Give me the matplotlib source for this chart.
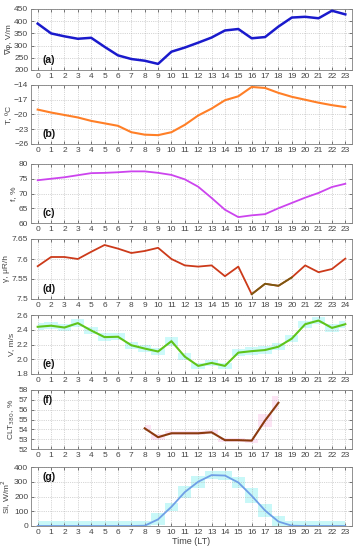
import numpy as np
import matplotlib
matplotlib.use("Agg")
import matplotlib.pyplot as plt

plt.rcParams["font.family"] = ["Liberation Sans", "DejaVu Sans"]

hours = list(range(24))

# (a) potential gradient, V/m
pg = [390, 350, 338, 328, 332, 295, 260, 245, 238, 225, 275, 292,
      312, 333, 362, 368, 330, 335, 378, 415, 418, 412, 443, 428]
# (b) temperature, C
temp = [-19.0, -19.6, -20.1, -20.6, -21.3, -21.8, -22.3, -23.6, -24.1, -24.2, -23.6, -22.1,
        -20.2, -18.8, -17.1, -16.3, -14.4, -14.6, -15.6, -16.4, -17.0, -17.6, -18.1, -18.5]
# (c) relative humidity, %
rh = [74.5, 75.0, 75.5, 76.2, 76.9, 77.0, 77.2, 77.5, 77.5, 77.0, 76.3, 74.8,
      72.3, 68.5, 64.5, 62.0, 62.6, 63.0, 65.0, 66.8, 68.6, 70.2, 72.2, 73.3]
# (d) gamma background, uR/h
gamma = [7.582, 7.605, 7.605, 7.600, 7.618, 7.635, 7.626, 7.615, 7.620, 7.628, 7.600, 7.584,
         7.581, 7.584, 7.557, 7.581, 7.512, 7.538, 7.533, 7.554, 7.584, 7.567, 7.575, 7.601]
gamma_labels = ["0"] + [str(h) for h in range(2, 25)]
# (e) wind speed, m/s
wind = [2.44, 2.455, 2.43, 2.49, 2.39, 2.30, 2.305, 2.19, 2.145, 2.105, 2.245, 2.035,
        1.91, 1.95, 1.91, 2.09, 2.11, 2.125, 2.17, 2.28, 2.475, 2.525, 2.425, 2.475]
wind_err = [0.05, 0.05, 0.05, 0.05, 0.05, 0.05, 0.05, 0.05, 0.05, 0.05, 0.06, 0.05,
            0.04, 0.04, 0.04, 0.05, 0.05, 0.05, 0.05, 0.05, 0.05, 0.05, 0.05, 0.05]
# (f) cloud cover, %
clt_hours = [8, 9, 10, 11, 12, 13, 14, 15, 16, 17, 18]
clt = [54.1, 53.2, 53.6, 53.6, 53.6, 53.7, 52.9, 52.9, 52.85, 54.9, 56.7]
clt_err = [0.3, 0.3, 0.2, 0.2, 0.2, 0.2, 0.2, 0.2, 0.2, 0.7, 0.7]
# (g) solar irradiance, W/m2
si = [0, 0, 0, 0, 0, 0, 0, 0, 2, 45, 130, 230,
      300, 345, 342, 295, 205, 105, 30, 2, 0, 0, 0, 0]
si_err = [35, 35, 35, 35, 35, 35, 35, 35, 35, 40, 25, 40,
          40, 25, 30, 40, 50, 45, 35, 35, 35, 35, 35, 35]

W, H = 361, 550
fig = plt.figure(figsize=(W / 100, H / 100), dpi=100)

# panel (top, bottom) in pixels
boxes = [(9, 70), (85, 144), (164, 223), (239, 299), (315, 374), (390, 449), (467, 526)]
left, right = 31, 352

panels = [
    dict(y=pg, color="#1a1acc", lw=1.8, ylim=(200, 450), yt=np.arange(200, 451, 50),
         ylab="\u2207\u03c6, V/m", tag="(a)", tagpos="bottom"),
    dict(y=temp, color="#ff7f27", lw=1.5, ylim=(-26, -14), yt=np.arange(-26, -13, 3),
         ylab="T, \u00baC", tag="(b)", tagpos="bottom"),
    dict(y=rh, color="#cc44ee", lw=1.3, ylim=(60, 80), yt=np.arange(60, 81, 5),
         ylab="f, %", tag="(c)", tagpos="bottom"),
    dict(y=gamma, color="#cc3a1a", lw=1.3, ylim=(7.5, 7.65), yt=[7.5, 7.55, 7.6, 7.65],
         ylab="\u03b3, \u03bcR/h", tag="(d)", tagpos="bottom"),
    dict(y=wind, color="#5fc41a", lw=1.5, ylim=(1.8, 2.6), yt=[1.8, 2.0, 2.2, 2.4, 2.6],
         ylab="V, m/s", tag="(e)", tagpos="bottom"),
    dict(y=clt, color="#8b3a0f", lw=1.5, ylim=(52, 58), yt=np.arange(52, 59, 1),
         ylab="CLT$_{380}$, %", tag="(f)", tagpos="top"),
    dict(y=si, color="#6f9fe6", lw=1.3, ylim=(0, 400), yt=np.arange(0, 401, 100),
         ylab="SI, W/m$^2$", tag="(g)", tagpos="top"),
]

fs = 6
for i, (p, (top, bot)) in enumerate(zip(panels, boxes)):
    ax = fig.add_axes([left / W, 1 - bot / H, (right - left) / W, (bot - top) / H])
    x = clt_hours if i == 5 else hours

    if i == 4:
        lo = np.array(wind) - np.array(wind_err)
        hi = np.array(wind) + np.array(wind_err)
        ax.fill_between(hours, lo, hi, step="mid", color="#ccfafa", lw=0, zorder=1)
    elif i == 5:
        lo = np.array(clt) - np.array(clt_err)
        hi = np.array(clt) + np.array(clt_err)
        ax.fill_between(clt_hours, lo, hi, step="mid", color="#fce4f4", lw=0, zorder=1)
    elif i == 6:
        lo = np.clip(np.array(si) - np.array(si_err), 0, None)
        hi = np.array(si) + np.array(si_err)
        ax.fill_between(hours, lo, hi, step="mid", color="#c8f8f8", lw=0, zorder=1)

    ax.plot(x, p["y"], color=p["color"], lw=p["lw"], zorder=3)
    if i == 3:
        ax.plot(hours[16:20], gamma[16:20], color="#7a5a10", lw=p["lw"], zorder=4)

    ax.set_xlim(-0.5, 23.5)
    ax.set_ylim(*p["ylim"])
    ax.set_xticks(hours)
    if i == 3:
        ax.set_xticklabels(gamma_labels)
    ax.set_yticks(p["yt"])
    if i == 3:
        ax.set_yticklabels(["7.5", "7.55", "7.6", "7.65"])
    ax.tick_params(direction="in", top=True, right=True, labelsize=fs, length=2.5,
                   pad=2, colors="#444444", width=0.5)
    ax.grid(True, ls=":", lw=0.5, color="#b0b0b0")
    for s in ax.spines.values():
        s.set_color("#808080")
        s.set_linewidth(0.6)
    ax.set_ylabel(p["ylab"], fontsize=fs, color="#444444", labelpad=1)
    ty = 0.12 if p["tagpos"] == "bottom" else 0.78
    ax.text(0.035, ty, p["tag"], transform=ax.transAxes, fontsize=7.5,
            fontweight="bold", color="#111111", zorder=5)
    if i == 6:
        ax.set_xlabel("Time (LT)", fontsize=fs + 0.5, color="#444444", labelpad=1)

fig.savefig("out.png", dpi=100)
